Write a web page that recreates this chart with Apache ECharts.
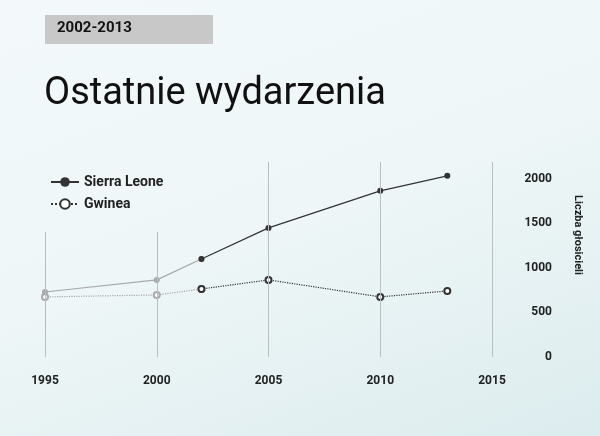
<!DOCTYPE html><html><head><meta charset="utf-8">
<script src="https://cdn.jsdelivr.net/npm/echarts@6/dist/echarts.min.js"></script>
<style>html,body{margin:0;padding:0;background:linear-gradient(160deg,#f3f9fa 0%,#eef6f7 50%,#dcecee 100%);}#c{width:600px;height:436px;}</style>
</head><body><div id="c"></div><script>
const years = [1995, 2000, 2002, 2005, 2010, 2013];
const sierraLeone = [730, 866, 1100, 1450, 1866, 2035];
const gwinea = [675, 697, 764, 866, 675, 742];
const xTicks = [1995, 2000, 2005, 2010, 2015];
const F = '"Liberation Sans Narrow","Roboto","DejaVu Sans Condensed",sans-serif';
const pts = (vals, from, to) => years.map((y, i) => [y, vals[i]]).slice(from, to);
const ch = echarts.init(document.getElementById('c'));
const lineStyleV = {color: '#b8bfc0', width: 1, type: 'solid'};
ch.setOption({
  animation: false,
  grid: {left: 45, right: 108, top: 162, bottom: 79},
  xAxis: {type: 'value', min: 1995, max: 2015, interval: 5, axisLine: {show: false}, axisTick: {show: false}, splitLine: {show: false},
    axisLabel: {formatter: v => String(v), color: '#222', fontFamily: F, fontSize: 12, fontWeight: 'bold', margin: 18}},
  yAxis: {type: 'value', position: 'right', min: 0, max: 2190, interval: 500, splitLine: {show: false}, axisLine: {show: false}, axisTick: {show: false},
    axisLabel: {formatter: v => String(v), showMaxLabel: false, color: '#222', fontFamily: F, fontSize: 12, fontWeight: 'bold', align: 'right', margin: 60}},
  legend: {data: ['Sierra Leone', 'Gwinea'], orient: 'vertical', left: 45, top: 170, itemGap: 8, itemWidth: 28, itemHeight: 12,
    textStyle: {color: '#222', fontFamily: F, fontSize: 14, fontWeight: 'bold'}},
  graphic: [
    {type: 'rect', shape: {x: 45, y: 15, width: 168, height: 29}, style: {fill: '#c8c8c8'}},
    {type: 'text', left: 57, top: 21, style: {text: '2002-2013', font: 'bold 15px ' + F, fill: '#111'}},
    {type: 'text', left: 44, top: 75, style: {text: 'Ostatnie wydarzenia', font: '38px ' + F, fill: '#111'}},
    {type: 'text', x: 578, y: 235, rotation: -Math.PI / 2, style: {text: 'Liczba głosicieli', font: 'bold 11px ' + F, fill: '#222', align: 'center', verticalAlign: 'middle'}}
  ],
  series: [
    {type: 'line', name: 'grid', data: [], silent: true,
      markLine: {symbol: 'none', silent: true, label: {show: false}, lineStyle: lineStyleV,
        data: [{xAxis: 2005}, {xAxis: 2010}, {xAxis: 2015},
          [{coord: [1995, 0]}, {coord: [1995, 1405]}], [{coord: [2000, 0]}, {coord: [2000, 1405]}]]}},
    {type: 'line', name: 'slOld', data: pts(sierraLeone, 0, 3), symbol: 'circle', symbolSize: 6,
      lineStyle: {color: '#a9a9a9', width: 1.2}, itemStyle: {color: '#a9a9a9'}},
    {type: 'line', name: 'gwOld', data: pts(gwinea, 0, 3), symbol: 'emptyCircle', symbolSize: 6,
      lineStyle: {color: '#a9a9a9', width: 1.2, type: 'dotted'}, itemStyle: {color: '#a9a9a9'}},
    {type: 'line', name: 'Sierra Leone', data: pts(sierraLeone, 2, 6), symbol: 'circle', symbolSize: 6,
      lineStyle: {color: '#333', width: 1.2}, itemStyle: {color: '#333'}},
    {type: 'line', name: 'Gwinea', data: pts(gwinea, 2, 6), symbol: 'emptyCircle', symbolSize: 6,
      lineStyle: {color: '#333', width: 1.2, type: 'dotted'}, itemStyle: {color: '#333', borderWidth: 1.2}}
  ]
});
</script></body></html>
